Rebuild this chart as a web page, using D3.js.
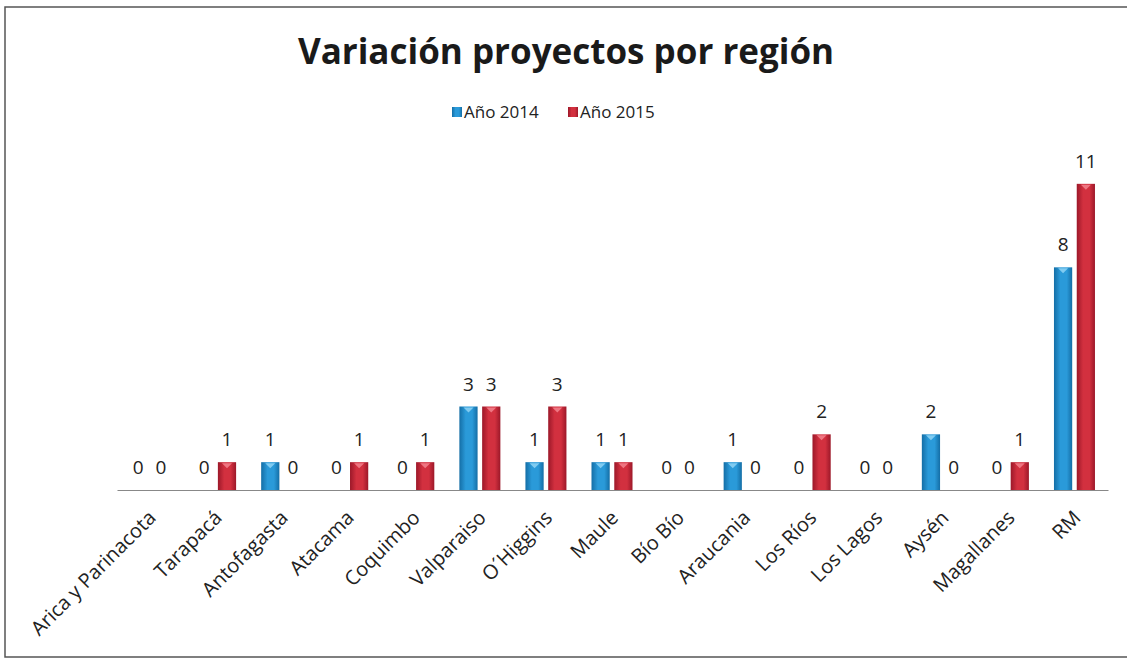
<!DOCTYPE html>
<html>
<head>
<meta charset="utf-8">
<script src="https://cdn.jsdelivr.net/npm/d3@7"></script>
<style>
  body { margin: 0; background: #fff; }
  svg { display: block; font-family: "Open Sans", "Noto Sans", sans-serif; }
</style>
</head>
<body>
<div id="chart"></div>
<script>
// data
var categories = ["Arica y Parinacota", "Tarapacá", "Antofagasta", "Atacama", "Coquimbo",
  "Valparaiso", "O´Higgins", "Maule", "Bío Bío", "Araucania", "Los Ríos", "Los Lagos",
  "Aysén", "Magallanes", "RM"];
var values2014 = [0, 0, 1, 0, 0, 3, 1, 1, 0, 1, 0, 0, 2, 0, 8];
var values2015 = [0, 1, 0, 1, 1, 3, 3, 1, 0, 0, 2, 0, 0, 1, 11];
var seriesNames = ["Año 2014", "Año 2015"];
var titleText = "Variación proyectos por región";

var W = 1127, H = 660;
var colors = {
  "Año 2014": {edge: "#146ea6", mid: "#2a9ad9", tip: "#8fd3f5"},
  "Año 2015": {edge: "#9c1829", mid: "#d2303f", tip: "#f3828e"}
};

var rows = categories.map(function (c, i) {
  return {cat: c, vals: [values2014[i], values2015[i]]};
});

var svg = d3.select('#chart').append('svg')
  .attr('width', W).attr('height', H);

// gradients for the bars
var defs = svg.append('defs');
seriesNames.forEach(function (s, i) {
  var g = defs.append('linearGradient').attr('id', 'grad' + i)
    .attr('x1', '0%').attr('x2', '100%').attr('y1', '0%').attr('y2', '0%');
  g.append('stop').attr('offset', '0%').attr('stop-color', colors[s].edge);
  g.append('stop').attr('offset', '35%').attr('stop-color', colors[s].mid);
  g.append('stop').attr('offset', '70%').attr('stop-color', colors[s].mid);
  g.append('stop').attr('offset', '100%').attr('stop-color', colors[s].edge);
});

// frame of the chart area
svg.append('rect')
  .attr('x', 5).attr('y', 7).attr('width', W + 10).attr('height', 650)
  .attr('fill', 'none').attr('stroke', '#555').attr('stroke-width', 1.5);

// title
svg.append('text')
  .attr('x', 566).attr('y', 64)
  .attr('text-anchor', 'middle')
  .style('font-size', '35px').style('font-weight', 'bold').style('fill', '#1a1a1a')
  .text(titleText);

// legend
var legend = svg.append('g').attr('transform', 'translate(452,112)');
var legX = [0, 116];
seriesNames.forEach(function (s, i) {
  var lg = legend.append('g').attr('transform', 'translate(' + legX[i] + ',0)');
  lg.append('rect').attr('x', 0).attr('y', -5).attr('width', 10).attr('height', 10)
    .attr('fill', 'url(#grad' + i + ')');
  lg.append('text').attr('x', 12).attr('y', 6)
    .style('font-size', '17px').style('fill', '#222')
    .text(s);
});

// scales
var x0 = d3.scaleBand().domain(categories).range([117, 1108]);
var x1 = d3.scaleBand().domain(seriesNames).range([-21, 20]).paddingInner(0.2);
var y = d3.scaleLinear().domain([0, 12]).range([490, 156]);

// bars
var groups = svg.selectAll('g.cat')
  .data(rows).enter().append('g')
  .attr('class', 'cat')
  .attr('transform', function (d) { return 'translate(' + (x0(d.cat) + x0.bandwidth() / 2) + ',0)'; });

var bars = groups.selectAll('g.bar')
  .data(function (d) { return d.vals.map(function (v, i) { return {s: seriesNames[i], i: i, v: v}; }); })
  .enter().append('g').attr('class', 'bar');

bars.filter(function (d) { return d.v > 0; }).append('rect')
  .attr('x', function (d) { return x1(d.s); })
  .attr('y', function (d) { return y(d.v); })
  .attr('width', x1.bandwidth())
  .attr('height', function (d) { return y(0) - y(d.v); })
  .attr('fill', function (d) { return 'url(#grad' + d.i + ')'; });

// little bevel mark at the top of each bar
bars.filter(function (d) { return d.v > 0; }).append('path')
  .attr('d', function (d) {
    var cx = x1(d.s) + x1.bandwidth() / 2, t = y(d.v) + 1;
    return 'M' + (cx - 5) + ',' + t + 'L' + (cx + 5) + ',' + t + 'L' + cx + ',' + (t + 5) + 'Z';
  })
  .attr('fill', function (d) { return colors[d.s].tip; })
  .attr('opacity', 0.85);

// value labels
bars.append('text')
  .attr('x', function (d) { return x1(d.s) + x1.bandwidth() / 2; })
  .attr('y', function (d) { return y(d.v) - 16; })
  .attr('text-anchor', 'middle')
  .style('font-size', '19px').style('fill', '#222')
  .text(function (d) { return d.v; });

// x axis
var xAxis = svg.append('g')
  .attr('transform', 'translate(0,' + y(0) + ')')
  .call(d3.axisBottom(x0).tickSize(0).tickPadding(0));
xAxis.select('.domain').attr('stroke', '#888').attr('stroke-width', 1.2);
xAxis.selectAll('.tick text')
  .attr('text-anchor', 'end')
  .attr('dy', 0)
  .attr('transform', 'translate(7,29) rotate(-45)')
  .style('font-size', '20px').style('fill', '#222')
  .style('font-family', '"Open Sans", sans-serif');
</script>
</body>
</html>
